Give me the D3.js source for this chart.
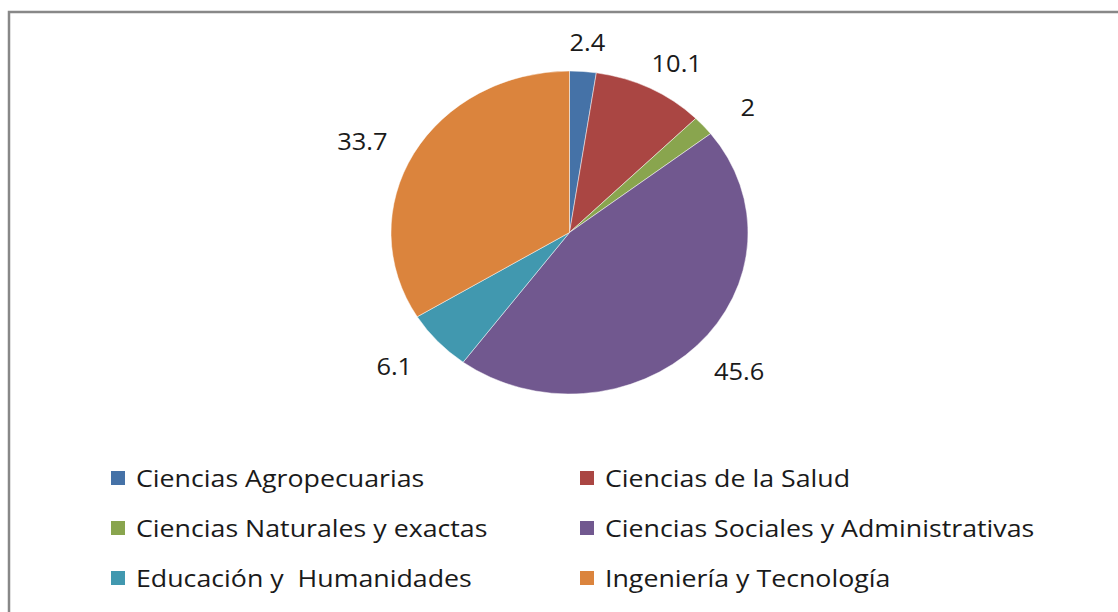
<!DOCTYPE html>
<html>
<head>
<meta charset="utf-8">
<script src="https://cdn.jsdelivr.net/npm/d3@7"></script>
<style>
  html, body { margin: 0; padding: 0; background: #fff; }
  #chart { width: 1118px; height: 612px; }
  text { font-family: "Open Sans", sans-serif; fill: #1a1a1a; white-space: pre; }
</style>
</head>
<body>
<div id="chart"></div>
<script>
//Datos
const categorias = ['Ciencias Agropecuarias', 'Ciencias de la Salud', 'Ciencias Naturales y exactas',
    'Ciencias Sociales y Administrativas', 'Educación y  Humanidades', 'Ingeniería y Tecnología'];
const valores = [2.4, 10.1, 2, 45.6, 6.1, 33.7];
const etiquetas = ['2.4', '10.1', '2', '45.6', '6.1', '33.7'];
const colores = ['#4572A7', '#AA4643', '#89A54E', '#71588F', '#4198AF', '#DB843D'];

let width = 1118, height = 612;

let svg = d3.select('#chart')
    .append('svg')
    .attr('width', width)
    .attr('height', height);

//Marco
svg.append('path')
    .attr('d', 'M9,' + height + ' V12 H' + width)
    .attr('fill', 'none')
    .attr('stroke', '#888')
    .attr('stroke-width', 2.5);

//Tarta (elíptica: la imagen original está estirada en horizontal)
let cx = 569.5, cy = 232.5, rx = 178.5, ry = 161.5;
let stretch = rx / ry;

let pie = d3.pie().sort(null).value(function(d) { return d; });
let arcs = pie(valores);
let arc = d3.arc().innerRadius(0).outerRadius(ry);

let color = d3.scaleOrdinal().domain(categorias).range(colores);

let g = svg.append('g')
    .attr('transform', 'translate(' + cx + ',' + cy + ') scale(' + stretch + ',1)');

g.selectAll('path')
    .data(arcs)
    .enter()
    .append('path')
    .attr('d', arc)
    .attr('fill', function(d, i) { return color(categorias[i]); })
    .attr('stroke', 'rgba(255,255,255,0.6)')
    .attr('stroke-width', 0.8)
    .attr('vector-effect', 'non-scaling-stroke');

//Etiquetas de valor
svg.append('g')
    .selectAll('text')
    .data(arcs)
    .enter()
    .append('text')
    .attr('transform', function(d) {
        let a = (d.startAngle + d.endAngle) / 2;
        let x = cx + rx * 1.33 * Math.sin(a);
        let y = cy - ry * 1.2 * Math.cos(a) + 3;
        return 'translate(' + x + ',' + y + ') scale(' + stretch + ',1)';
    })
    .attr('text-anchor', 'middle')
    .attr('dominant-baseline', 'central')
    .style('font-size', '23px')
    .text(function(d, i) { return etiquetas[i]; });

//Leyenda
let colX = d3.scaleOrdinal().domain([0, 1]).range([111, 580]);
let rowY = d3.scaleOrdinal().domain([0, 1, 2]).range([478, 528, 578]);

let legend = svg.append('g')
    .selectAll('g')
    .data(categorias)
    .enter()
    .append('g')
    .attr('transform', function(d, i) {
        return 'translate(' + colX(i % 2) + ',' + rowY(Math.floor(i / 2)) + ')';
    });

legend.append('rect')
    .attr('x', 0)
    .attr('y', -7)
    .attr('width', 14)
    .attr('height', 14)
    .attr('fill', function(d) { return color(d); });

legend.append('text')
    .attr('transform', 'translate(25,0) scale(' + stretch + ',1)')
    .attr('dominant-baseline', 'central')
    .style('font-size', '24.2px')
    .text(function(d) { return d; });
</script>
</body>
</html>
